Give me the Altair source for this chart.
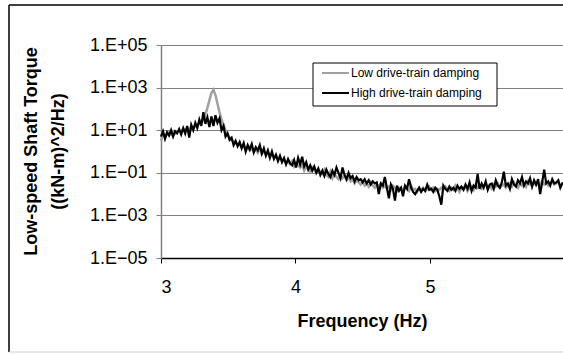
import altair as alt
import pandas as pd

# ---------------- data ----------------
FREQ_START = 3.0
FREQ_STEP = 0.015
N = 201
freq = [round(FREQ_START + i * FREQ_STEP, 3) for i in range(N)]

# log10 of PSD, high drive-train damping (black)
high_log = [
    0.7, 0.95, 0.6, 0.9, 0.75, 1.0, 0.7, 0.95, 0.85, 1.05,
    0.8, 1.1, 0.85, 1.2, 0.65, 1.25, 1.0, 1.35, 1.1, 1.5,
    1.2, 1.85, 1.3, 1.6, 1.15, 1.65, 1.2, 1.7, 1.35, 1.55,
    1.0, 1.2, 0.7, 0.85, 0.55, 0.65, 0.3, 0.5, 0.25, 0.45,
    0.15, 0.4, 0.0, 0.3, 0.1, 0.35, -0.05, 0.2, 0.05, 0.3,
    -0.1, 0.15, -0.2, 0.05, -0.3, 0.0, -0.35, -0.15, -0.45, -0.2,
    -0.5, -0.3, -0.6, -0.35, -0.55, -0.65, -0.4, -0.75, -0.3, -0.6,
    -0.25, -0.7, -0.5, -0.85, -0.65, -0.9, -0.7, -1.0, -0.8, -1.1,
    -0.9, -1.15, -0.85, -1.05, -1.2, -0.9, -1.1, -0.75, -1.0, -1.25,
    -0.75, -1.1, -1.3, -1.0, -1.25, -1.15, -1.4, -1.2, -1.35, -1.3,
    -1.45, -1.3, -1.5, -1.35, -1.55, -1.4, -1.5, -1.45, -2.0, -1.5,
    -1.6, -1.2, -1.7, -2.2, -1.55, -1.75, -2.3, -1.6, -1.85, -1.7,
    -2.1, -1.6, -1.75, -1.3, -1.7, -1.9, -2.0, -1.85, -1.7, -1.9,
    -1.75, -1.85, -1.55, -1.8, -1.75, -1.9, -1.7, -1.8, -2.1, -2.5,
    -1.6, -1.75, -1.85, -1.65, -1.8, -1.7, -1.85, -1.6, -1.75, -1.65,
    -1.8, -1.55, -1.75, -1.45, -1.85, -1.6, -1.7, -1.05, -1.75, -1.5,
    -1.7, -1.4, -1.8, -1.55, -1.5, -1.75, -1.35, -1.6, -1.7, -1.45,
    -0.95, -1.6, -1.5, -1.75, -1.3, -1.55, -1.65, -1.35, -1.5, -1.2,
    -1.6, -1.4, -1.5, -1.25, -1.65, -1.35, -1.55, -1.3, -2.0, -1.45,
    -0.85, -1.5, -1.4, -1.6, -1.3, -1.5, -1.45, -1.35, -1.7, -1.5,
    -1.55,
]

# log10 of PSD, low drive-train damping (gray)
low_log = [
    0.5, 0.8, 0.7, 0.85, 0.9, 0.8, 0.95, 0.85, 0.9, 1.0,
    0.95, 1.05, 1.0, 1.1, 1.0, 1.15, 1.1, 1.2, 1.25, 1.3,
    1.35, 1.5, 1.75, 2.05, 2.4, 2.75, 2.9, 2.65, 2.25, 1.85,
    1.5, 1.25, 1.0, 0.8, 0.65, 0.55, 0.45, 0.4, 0.3, 0.35,
    0.2, 0.25, 0.1, 0.2, 0.05, 0.15, 0.0, 0.1, -0.05, 0.15,
    -0.1, 0.0, -0.15, -0.05, -0.25, -0.1, -0.3, -0.2, -0.4, -0.3,
    -0.45, -0.4, -0.55, -0.5, -0.6, -0.45, -0.7, -0.55, -0.65, -0.75,
    -0.6, -0.9, -0.7, -0.8, -0.95, -0.75, -0.85, -1.0, -0.9, -0.95,
    -1.05, -0.85, -1.1, -1.2, -0.95, -1.25, -1.05, -1.2, -1.3, -1.1,
    -1.25, -1.15, -1.35, -1.2, -1.4, -1.3, -1.5, -1.35, -1.45, -1.55,
    -1.4, -1.6, -1.5, -1.65, -1.45, -1.6, -1.7, -1.55, -1.65, -1.5,
    -1.7, -1.6, -1.75, -1.65, -1.8, -1.6, -1.7, -1.85, -1.7, -1.75,
    -1.8, -1.65, -1.75, -1.85, -1.6, -1.8, -1.75, -1.9, -1.7, -1.8,
    -1.7, -1.85, -1.75, -1.65, -1.8, -1.7, -1.85, -1.75, -1.8, -1.7,
    -1.8, -1.65, -1.75, -1.85, -1.7, -1.8, -1.6, -1.75, -1.9, -1.7,
    -1.75, -1.6, -1.85, -1.7, -1.65, -1.8, -1.55, -1.7, -1.6, -1.75,
    -1.65, -1.5, -1.7, -1.6, -1.75, -1.55, -1.65, -1.5, -1.7, -1.6,
    -1.55, -1.7, -1.6, -1.5, -1.65, -1.45, -1.6, -1.7, -1.5, -1.6,
    -1.5, -1.65, -1.4, -1.55, -1.6, -1.45, -1.6, -1.5, -1.55, -1.4,
    -1.55, -1.45, -1.6, -1.5, -1.4, -1.55, -1.5, -1.45, -1.6, -1.5,
    -1.45,
]

series_names = ["Low drive-train damping", "High drive-train damping"]
series_colors = ["#a0a0a0", "#000000"]
y_ticks = [1e-5, 1e-3, 1e-1, 1e1, 1e3, 1e5]
x_ticks = [3, 4, 5]

low_df = pd.DataFrame({"f": freq, "psd": [10 ** v for v in low_log]})
high_df = pd.DataFrame({"f": freq, "psd": [10 ** v for v in high_log]})

FONT = "Liberation Sans"
W, H = 402, 213

x_enc = alt.X(
    "f:Q",
    scale=alt.Scale(domain=[3, 5.99], nice=False, zero=False),
    axis=alt.Axis(
        values=x_ticks, title="Frequency (Hz)", grid=False,
        tickSize=5, tickColor="#000000", domainColor="#000000", domainWidth=1.5,
        labelFont=FONT, labelFontSize=18, labelColor="#000000", labelPadding=15,
        titleFont=FONT, titleFontSize=18, titleFontWeight="bold", titleColor="#000000",
        titlePadding=16, format="d",
    ),
)
y_enc = alt.Y(
    "psd:Q",
    scale=alt.Scale(type="log", domain=[1e-5, 1e5], nice=False),
    axis=alt.Axis(
        values=y_ticks,
        labelExpr="'1.E' + format(round(log(datum.value)/LN10), '+03d')",
        grid=True, gridColor="#808080", gridWidth=1,
        tickSize=5, tickColor="#808080", domainColor="#808080", domainWidth=1.5,
        labelFont=FONT, labelFontSize=18, labelColor="#000000", labelPadding=9,
        title=["Low-speed Shaft Torque", "((kN-m)^2/Hz)"],
        titleFont=FONT, titleFontSize=18, titleFontWeight="bold", titleColor="#000000",
        titleAngle=270, titleX=-139, titleY=106, titleAlign="center",
        titleBaseline="top", titleLineHeight=27,
    ),
)

low_line = alt.Chart(low_df).mark_line(color=series_colors[0], strokeWidth=2.5).encode(x=x_enc, y=y_enc)
high_line = alt.Chart(high_df).mark_line(color=series_colors[1], strokeWidth=2.2).encode(x="f:Q", y="psd:Q")

one = pd.DataFrame({"k": [0]})
legend_box = alt.Chart(one).mark_rect(fill="white", stroke="black", strokeWidth=1).encode(
    x=alt.value(152), x2=alt.value(336), y=alt.value(18), y2=alt.value(61)
)
leg_items = pd.DataFrame({
    "name": series_names,
    "color": series_colors,
    "yy": [28, 48],
})
leg_lines = alt.Chart(leg_items).mark_rule(strokeWidth=2).encode(
    x=alt.value(161), x2=alt.value(188),
    y=alt.Y("yy:Q", scale=None),
    color=alt.Color("color:N", scale=None),
)
leg_text = alt.Chart(leg_items).mark_text(
    align="left", baseline="middle", font=FONT, fontSize=12, color="black"
).encode(
    x=alt.value(190), y=alt.Y("yy:Q", scale=None), text="name:N"
)

frame = alt.Chart(one).mark_rule(color="black", strokeWidth=1.5).encode(
    x=alt.value(-152), x2=alt.value(420), y=alt.value(-40)
)
frame_l = alt.Chart(one).mark_rule(color="black", strokeWidth=1.5).encode(
    x=alt.value(-152), y=alt.value(-40), y2=alt.value(307)
)
frame_b = alt.Chart(one).mark_rule(color="#d0d0d0", strokeWidth=1).encode(
    x=alt.value(-152), x2=alt.value(420), y=alt.value(307)
)

chart = alt.layer(
    low_line, high_line, legend_box, leg_lines, leg_text, frame, frame_l, frame_b
).properties(
    width=W, height=H,
    autosize=alt.AutoSizeParams(type="none"),
    padding={"left": 161, "top": 45, "right": 0, "bottom": 96},
    background="white",
).configure_view(stroke=None)

chart.save("out.html", embed_options={"renderer": "svg", "actions": False})
